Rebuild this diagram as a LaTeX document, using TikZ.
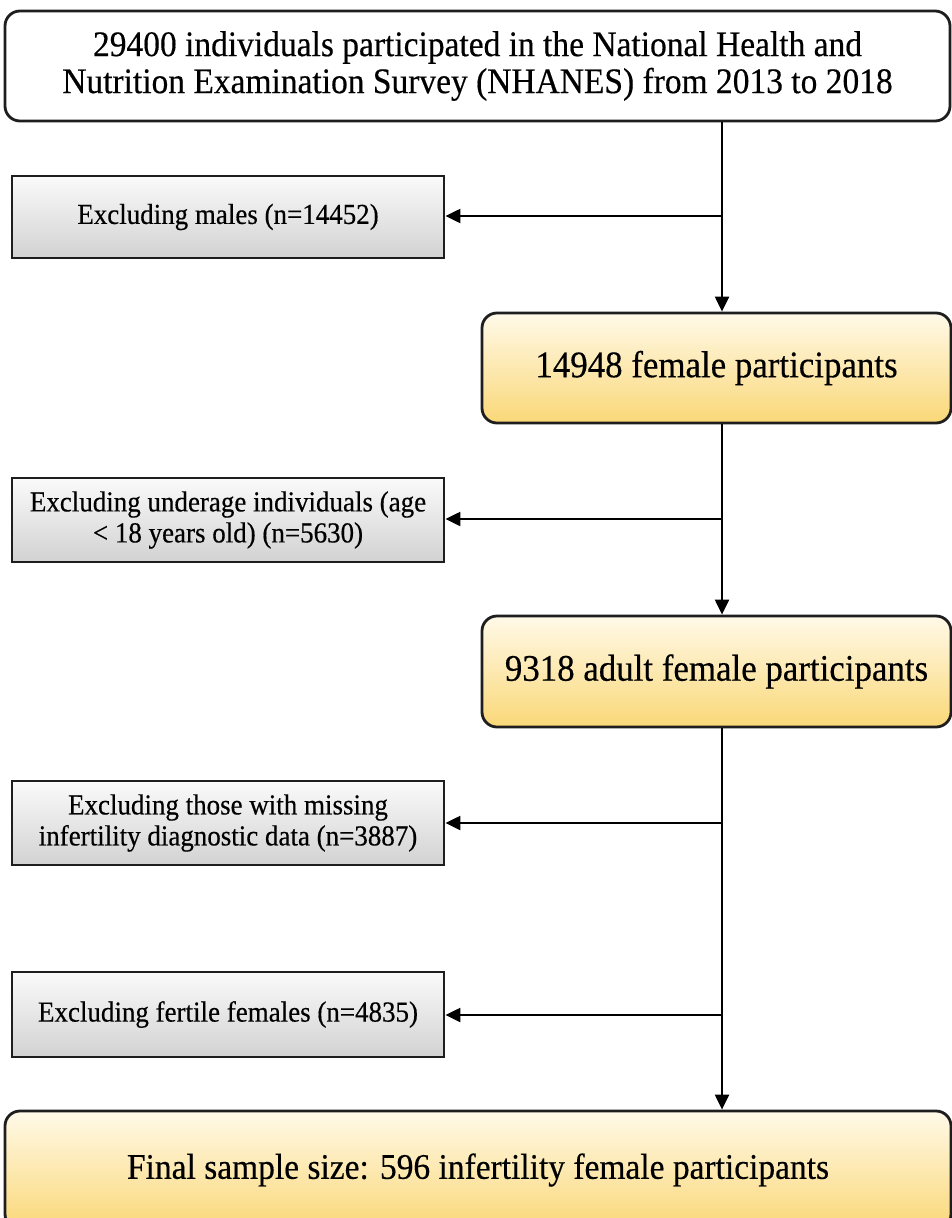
\documentclass[tikz,border=0pt]{standalone}
\usepackage{fontspec}
\setmainfont{Liberation Serif}[FakeStretch=0.93,FakeBold=0.4]
\usetikzlibrary{arrows.meta}
\definecolor{ytop}{RGB}{255,249,232}
\definecolor{ybot}{RGB}{250,216,120}
\definecolor{gtop}{RGB}{250,250,250}
\definecolor{gbot}{RGB}{210,210,210}
\definecolor{edge}{RGB}{30,30,30}
\tikzset{
  topbox/.style={draw=edge, line width=2.8pt, rounded corners=15pt, fill=white,
    inner sep=0pt, align=center, font=\fontsize{36}{37}\selectfont},
  ybox/.style={draw=edge, line width=2.8pt, rounded corners=15pt, top color=ytop, bottom color=ybot,
    inner sep=0pt, align=center, font=\fontsize{37.5}{40}\selectfont},
  gbox/.style={draw=edge, line width=2.8pt, top color=gtop, bottom color=gbot,
    inner sep=0pt, align=center, minimum width=432pt, font=\fontsize{29}{31}\selectfont},
  arr/.style={draw=black, line width=2.2pt, -{Triangle[length=15pt,width=14pt]}},
  ln/.style={draw=black, line width=2.2pt}
}
\begin{document}
\begin{tikzpicture}[x=1pt,y=-1pt]
\clip (0,0) rectangle (952,1218);
\fill[white] (0,0) rectangle (952,1218);
\node[topbox, minimum width=945pt, minimum height=110pt] (top) at (477.5,66)
  {29400 individuals participated in the National Health and\\Nutrition Examination Survey (NHANES) from 2013 to 2018};
\node[gbox, minimum height=82pt] (g1) at (228,217) {Excluding males (n=14452)};
\node[ybox, minimum width=469pt, minimum height=110pt] (y1) at (716.5,368) {14948 female participants};
\node[gbox, minimum height=84pt] (g2) at (228,520) {Excluding underage individuals (age\\\textless{} 18 years old) (n=5630)};
\node[ybox, minimum width=469pt, minimum height=111pt] (y2) at (716.5,671.5) {9318 adult female participants};
\node[gbox, minimum height=84pt] (g3) at (228,823) {Excluding those with missing\\infertility diagnostic data (n=3887)};
\node[gbox, minimum height=85pt] (g4) at (228,1014.5) {Excluding fertile females (n=4835)};
\node[ybox, minimum width=946pt, minimum height=118pt, font=\fontsize{36}{38}\selectfont] (fin) at (478,1170)
  {Final sample size: 596 infertility female participants};
\coordinate (c1) at (722,216);
\coordinate (c2) at (722,519);
\coordinate (c3) at (722,823);
\coordinate (c4) at (722,1015);
\draw[arr] (top.south -| c1) -- (y1.north -| c1);
\draw[arr] (c1) -- (c1 -| g1.east);
\draw[arr] (y1.south -| c2) -- (y2.north -| c2);
\draw[arr] (c2) -- (c2 -| g2.east);
\draw[arr] (y2.south -| c3) -- (fin.north -| c3);
\draw[arr] (c3) -- (c3 -| g3.east);
\draw[arr] (c4) -- (c4 -| g4.east);
\end{tikzpicture}
\end{document}
